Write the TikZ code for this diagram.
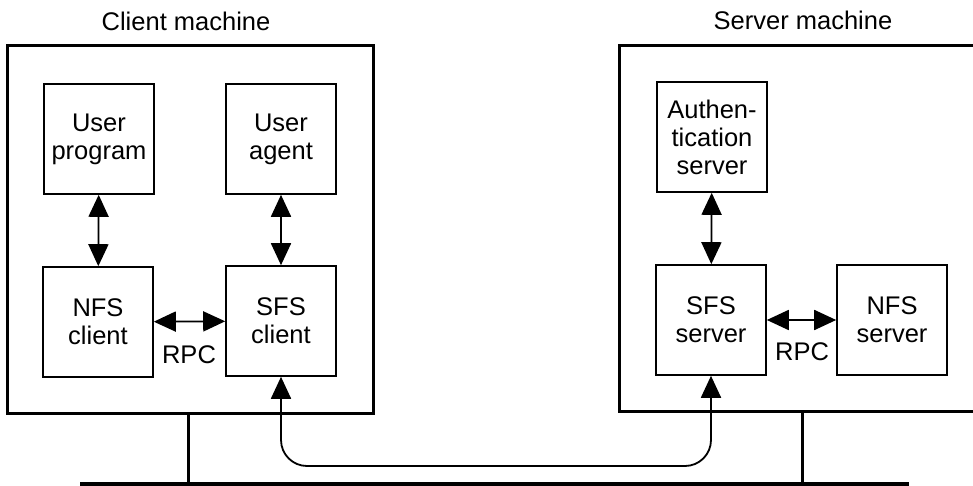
\documentclass[tikz,border=0pt]{standalone}
\usepackage{fontspec}
\setmainfont{Liberation Sans}
\usetikzlibrary{arrows.meta}

\begin{document}
\begin{tikzpicture}[x=1pt, y=-1pt,
    unit/.style={draw, line width=1.6pt, minimum width=110pt, minimum height=110pt, align=center, inner sep=0pt},
    machine/.style={line width=3pt},
    link/.style={{Triangle[length=22pt,width=20pt]}-{Triangle[length=22pt,width=20pt]}, line width=1.8pt}]
  \clip (0,0) rectangle (973,486);
  \fontsize{25.5}{28}\selectfont
  % machines
  \node (cm) at (186,21) {Client machine};
  \node (sm) at (803,20) {Server machine};
  \draw[machine] (7,46) rectangle (373,413);
  \draw[machine] (619,46) rectangle (990,411);
  % client side
  \node[unit] (prog) at (99,139) {User\\program};
  \node[unit] (agent) at (281,139) {User\\agent};
  \node[unit] (nfsc) at (98,322) {NFS\\client};
  \node[unit] (sfsc) at (281,321) {SFS\\client};
  \draw[link] (prog) -- (nfsc);
  \draw[link] (agent) -- (sfsc);
  \draw[link] (nfsc) -- (sfsc);
  \node (rpcc) at (189,355) {RPC};
  % server side
  \node[unit] (auth) at (712,137) {Authen-\\tication\\server};
  \node[unit] (sfss) at (711,320) {SFS\\server};
  \node[unit] (nfss) at (892,320) {NFS\\server};
  \draw[link] (auth) -- (sfss);
  \draw[link] (sfss) -- (nfss);
  \node (rpcs) at (802,352) {RPC};
  % network
  \coordinate (netl) at (80,484);
  \coordinate (netr) at (909,484);
  \draw[line width=4pt] (netl) -- (netr);
  \draw[machine] (188,413) -- (188,484);
  \draw[machine] (802,411) -- (802,484);
  \coordinate (via) at (0,466);
  \draw[link, rounded corners=26pt] (sfsc.south) -- (sfsc.south |- via) -- (sfss.south |- via) -- (sfss.south);
\end{tikzpicture}
\end{document}
